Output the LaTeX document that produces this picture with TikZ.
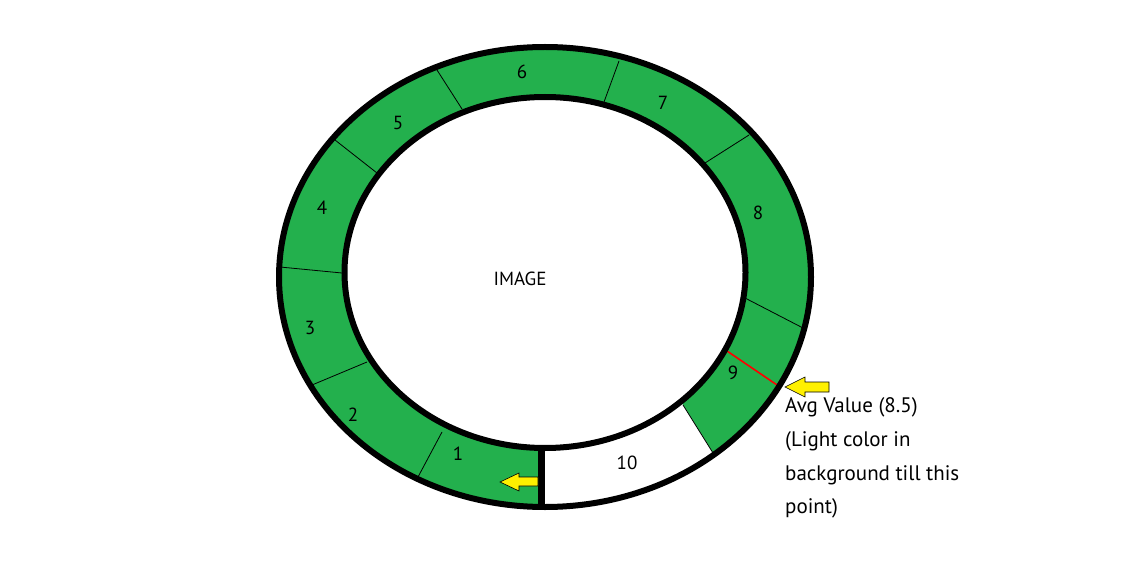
\documentclass[tikz,border=0pt]{standalone}
\usepackage{fontspec}
\setmainfont{PT Sans}
\definecolor{ringgreen}{RGB}{35,176,77}
\definecolor{arrowyellow}{RGB}{255,240,0}
\tikzset{
  ringline/.style={line width=6pt},
  divider/.style={line width=0.8pt},
  seglabel/.style={font=\fontsize{19}{22}\selectfont, text=black, inner sep=0pt},
  notetext/.style={font=\fontsize{21}{26}\selectfont, anchor=base west, inner sep=0pt},
  yarrow/.style={fill=arrowyellow, draw=black, line width=0.6pt, line join=miter}
}
\begin{document}
\begin{tikzpicture}[x=1pt,y=-1pt]
\useasboundingbox (0,0) rectangle (1127,580);
% ring fill
\fill[ringgreen] (545,277) ellipse [x radius=266, y radius=230];
\begin{scope}
  \clip (545,277) ellipse [x radius=266, y radius=230];
  \fill[white] (541,380) -- (667.4,380) -- (754.9,520) -- (541,520) -- cycle;
\end{scope}
\fill[white] (545,272.5) ellipse [x radius=200.5, y radius=175.5];
% dividers
\draw[divider] (442,432) -- (418,477);
\draw[divider] (367,362) -- (312,385);
\draw[divider] (342,273) -- (280,267);
\draw[divider] (377,173) -- (335,140);
\draw[divider] (462,109) -- (437,70);
\draw[divider] (604,102) -- (619,61);
\draw[divider] (705,163) -- (749,135);
\draw[divider] (745,298) -- (803,328);
\draw[divider] (683,405) -- (713,453);
% average marker
\draw[red, line width=1.6pt] (727,351) -- (780,387);
% ring outlines
\draw[ringline] (545,277) ellipse [x radius=266, y radius=230];
\draw[ringline] (545,272.5) ellipse [x radius=200.5, y radius=175.5];
% start bar
\coordinate (barTop) at (541.5,448);
\coordinate (barBot) at (541.5,509);
\draw[line width=7pt] (barTop) -- (barBot);
% labels
\node[seglabel] (l1) at (458,454) {1};
\node[seglabel] (l2) at (353,415) {2};
\node[seglabel] (l3) at (310,328) {3};
\node[seglabel] (l4) at (322,208) {4};
\node[seglabel] (l5) at (398,123) {5};
\node[seglabel] (l6) at (522,72) {6};
\node[seglabel] (l7) at (663,103) {7};
\node[seglabel] (l8) at (758,213) {8};
\node[seglabel] (l9) at (733,373) {9};
\node[seglabel] (l10) at (627,463) {10};
\node[seglabel] (img) at (520,279) {IMAGE};
% yellow arrows
\draw[yarrow] (785,387) -- (805,377) -- (805,382) -- (829,382) -- (829,392) -- (805,392) -- (805,397) -- cycle;
\draw[yarrow] (500,482) -- (519,473) -- (519,477) -- (538,477) -- (538,486) -- (519,486) -- (519,491) -- cycle;
% note text
\node[notetext] (t1) at (785,412) {Avg Value (8.5)};
\node[notetext] (t2) at (785,446) {(Light color in};
\node[notetext] (t3) at (785,480) {background till this};
\node[notetext] (t4) at (785,513) {point)};
\end{tikzpicture}
\end{document}
